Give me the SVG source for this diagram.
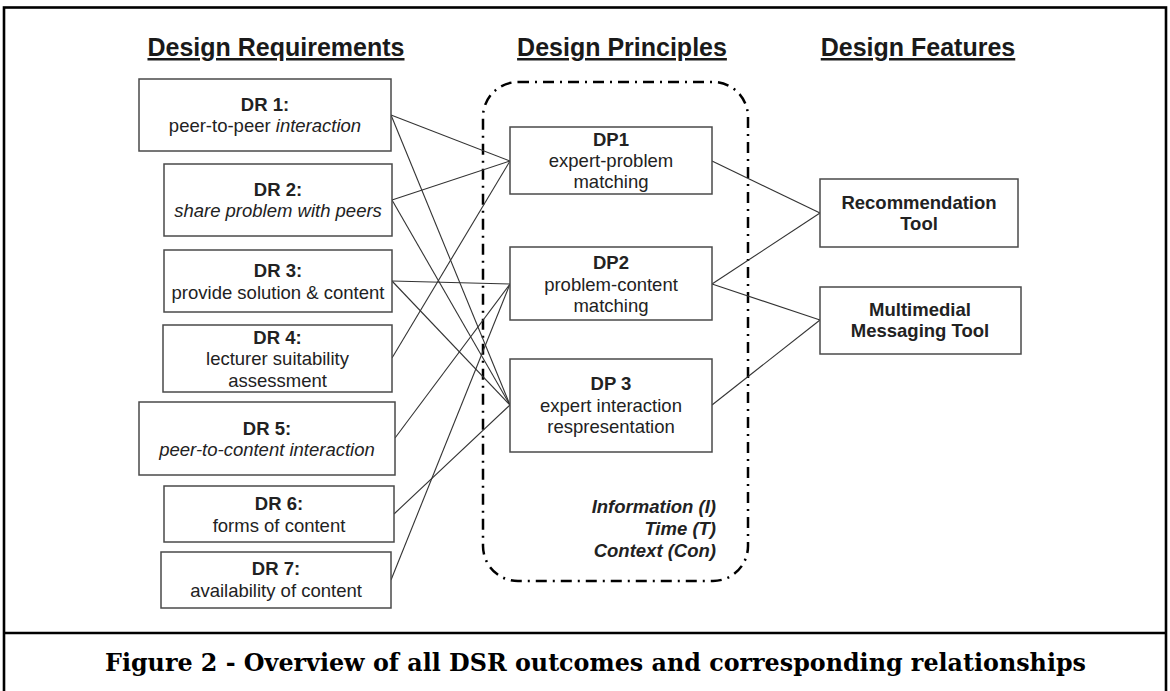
<svg xmlns="http://www.w3.org/2000/svg" width="1170" height="691" viewBox="0 0 1170 691">
<style>
  .frame { fill: none; stroke: #000; stroke-width: 2.6; }
  .box { fill: #fff; stroke: #4a4a4a; stroke-width: 1.5; }
  .hdr { font-family: "Liberation Sans", Arial, sans-serif; font-size: 25px; font-weight: bold; fill: #1a1a1a; text-anchor: middle; text-decoration: underline; }
  .t { font-family: "Liberation Sans", Arial, sans-serif; font-size: 18.5px; fill: #222; text-anchor: middle; }
  .b { font-weight: bold; }
  .i { font-style: italic; }
  .ctx { font-family: "Liberation Sans", Arial, sans-serif; font-size: 18.5px; font-weight: bold; font-style: italic; fill: #222; text-anchor: end; }
  .con { fill: none; stroke: #333; stroke-width: 1.1; }
  .dash { fill: none; stroke: #000; stroke-width: 2.5; stroke-dasharray: 11 6 2 6; }
  .cap { font-family: "DejaVu Serif", "Liberation Serif", serif; font-size: 23.5px; font-weight: bold; fill: #000; text-anchor: middle; }
</style>

<rect class="frame" x="4" y="7.5" width="1162" height="700"/>
<line class="frame" x1="4" y1="633" x2="1166" y2="633"/>

<g id="headers">
  <text class="hdr" x="276" y="56">Design Requirements</text>
  <text class="hdr" x="622" y="56">Design Principles</text>
  <text class="hdr" x="918" y="56">Design Features</text>
</g>

<g id="dp-container">
  <rect class="dash" x="483" y="82" width="265" height="499" rx="35" ry="35"/>
  <text class="ctx" x="716" y="513">Information (I)</text>
  <text class="ctx" x="716" y="535">Time (T)</text>
  <text class="ctx" x="716" y="557">Context (Con)</text>
</g>

<g id="connectors">
  <line class="con" x1="391" y1="115" x2="510" y2="161"/>
  <line class="con" x1="391" y1="115" x2="510" y2="405"/>
  <line class="con" x1="392" y1="200" x2="510" y2="161"/>
  <line class="con" x1="392" y1="200" x2="510" y2="405"/>
  <line class="con" x1="392" y1="281" x2="510" y2="284"/>
  <line class="con" x1="392" y1="281" x2="510" y2="405"/>
  <line class="con" x1="392" y1="358" x2="510" y2="161"/>
  <line class="con" x1="395" y1="438" x2="510" y2="284"/>
  <line class="con" x1="394" y1="514" x2="510" y2="405"/>
  <line class="con" x1="391" y1="580" x2="510" y2="284"/>
  <line class="con" x1="712" y1="161" x2="820" y2="213"/>
  <line class="con" x1="712" y1="284" x2="820" y2="213"/>
  <line class="con" x1="712" y1="284" x2="820" y2="320"/>
  <line class="con" x1="712" y1="405" x2="820" y2="320"/>
</g>

<g id="dr1">
  <rect class="box" x="139" y="79" width="252" height="72"/>
  <text class="t b" x="265" y="111">DR 1:</text>
  <text class="t" x="265" y="132">peer-to-peer <tspan class="i">interaction</tspan></text>
</g>
<g id="dr2">
  <rect class="box" x="164" y="164" width="228" height="72"/>
  <text class="t b" x="278" y="196">DR 2:</text>
  <text class="t i" x="278" y="217">share problem with peers</text>
</g>
<g id="dr3">
  <rect class="box" x="164" y="250" width="228" height="62"/>
  <text class="t b" x="278" y="277">DR 3:</text>
  <text class="t" x="278" y="299">provide solution &amp; content</text>
</g>
<g id="dr4">
  <rect class="box" x="163" y="325" width="229" height="67"/>
  <text class="t b" x="277.5" y="344">DR 4:</text>
  <text class="t" x="277.5" y="365">lecturer suitability</text>
  <text class="t" x="277.5" y="387">assessment</text>
</g>
<g id="dr5">
  <rect class="box" x="139" y="402" width="256" height="73"/>
  <text class="t b" x="267" y="435">DR 5:</text>
  <text class="t i" x="267" y="456">peer-to-content interaction</text>
</g>
<g id="dr6">
  <rect class="box" x="164" y="486" width="230" height="56"/>
  <text class="t b" x="279" y="510">DR 6:</text>
  <text class="t" x="279" y="532">forms of content</text>
</g>
<g id="dr7">
  <rect class="box" x="161" y="552" width="230" height="56"/>
  <text class="t b" x="276" y="575">DR 7:</text>
  <text class="t" x="276" y="597">availability of content</text>
</g>

<g id="dp1">
  <rect class="box" x="510" y="127" width="202" height="67"/>
  <text class="t b" x="611" y="146">DP1</text>
  <text class="t" x="611" y="167">expert-problem</text>
  <text class="t" x="611" y="188">matching</text>
</g>
<g id="dp2">
  <rect class="box" x="510" y="247" width="202" height="73"/>
  <text class="t b" x="611" y="269">DP2</text>
  <text class="t" x="611" y="291">problem-content</text>
  <text class="t" x="611" y="312">matching</text>
</g>
<g id="dp3">
  <rect class="box" x="510" y="359" width="202" height="93"/>
  <text class="t b" x="611" y="390">DP 3</text>
  <text class="t" x="611" y="412">expert interaction</text>
  <text class="t" x="611" y="433">respresentation</text>
</g>

<g id="df1">
  <rect class="box" x="820" y="179" width="198" height="68"/>
  <text class="t b" x="919" y="209">Recommendation</text>
  <text class="t b" x="919" y="230">Tool</text>
</g>
<g id="df2">
  <rect class="box" x="820" y="287" width="201" height="67"/>
  <text class="t b" x="920" y="316">Multimedial</text>
  <text class="t b" x="920" y="337">Messaging Tool</text>
</g>

<g id="caption">
  <text class="cap" x="595.5" y="671" textLength="981" lengthAdjust="spacingAndGlyphs">Figure 2 - Overview of all DSR outcomes and corresponding relationships</text>
</g>
</svg>
